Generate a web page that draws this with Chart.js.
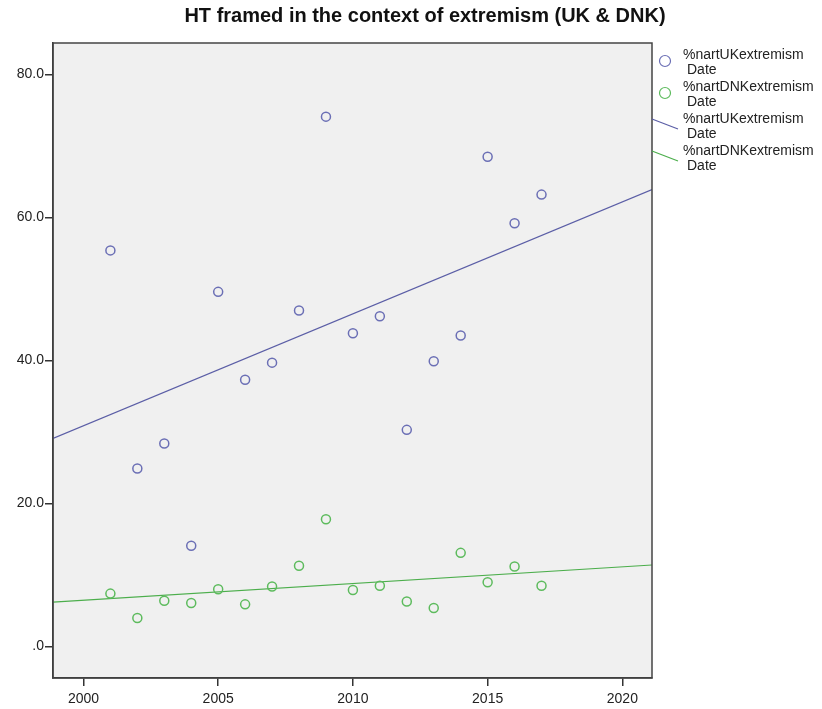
<!DOCTYPE html>
<html>
<head>
<meta charset="utf-8">
<script src="https://cdn.jsdelivr.net/npm/chart.js@4/dist/chart.umd.min.js"></script>
<style>
  body { margin: 0; background: #fff; }
  #wrap { width: 822px; height: 709px; }
</style>
</head>
<body>
<div id="wrap"><canvas id="chart" width="822" height="709"></canvas></div>
<script>
// values
const years = [2001, 2002, 2003, 2004, 2005, 2006, 2007, 2008, 2009, 2010, 2011, 2012, 2013, 2014, 2015, 2016, 2017];
const ukExtremism = [55.4, 24.9, 28.4, 14.1, 49.6, 37.3, 39.7, 47.0, 74.1, 43.8, 46.2, 30.3, 39.9, 43.5, 68.5, 59.2, 63.2];
const dnkExtremism = [7.4, 4.0, 6.4, 6.1, 8.0, 5.9, 8.4, 11.3, 17.8, 7.9, 8.5, 6.3, 5.4, 13.1, 9.0, 11.2, 8.5];

// fit lines, read at the two plot edges
const fitYears = [1998.87, 2021.1];
const ukFit = [29.1, 63.9];
const dnkFit = [6.2, 11.4];

const xTicks = [2000, 2005, 2010, 2015, 2020];
const yTicks = [0, 20, 40, 60, 80];
const xRange = [1998.87, 2021.1];
const yRange = [-4.4, 84.4];

const legendItems = [
  { label: ['%nartUKextremism', 'Date'], kind: 'point', color: '#6b6fb5' },
  { label: ['%nartDNKextremism', 'Date'], kind: 'point', color: '#5dbb5d' },
  { label: ['%nartUKextremism', 'Date'], kind: 'line', color: '#5b5ea6' },
  { label: ['%nartDNKextremism', 'Date'], kind: 'line', color: '#4cae4c' }
];

const FONT = '"Liberation Sans", Arial, sans-serif';

const toPoints = (xs, ys) => xs.map((x, i) => ({ x: x, y: ys[i] }));

// grey plot background, frame, title and the SPSS style legend
const spssDecor = {
  id: 'spssDecor',
  beforeDraw(chart) {
    const { ctx, chartArea: a } = chart;
    ctx.save();
    ctx.fillStyle = '#f0f0f0';
    ctx.fillRect(a.left, a.top, a.right - a.left, a.bottom - a.top);
    ctx.restore();
  },
  afterDraw(chart) {
    const { ctx, chartArea: a } = chart;
    ctx.save();
    ctx.strokeStyle = '#444';
    ctx.lineWidth = 1.5;
    ctx.strokeRect(a.left, a.top, a.right - a.left, a.bottom - a.top);

    // title
    ctx.fillStyle = '#111';
    ctx.font = 'bold 20px ' + FONT;
    ctx.textAlign = 'center';
    ctx.textBaseline = 'middle';
    ctx.fillText('HT framed in the context of extremism (UK & DNK)', 425, 16);

    // legend
    ctx.font = '14px ' + FONT;
    ctx.textAlign = 'left';
    legendItems.forEach((item, i) => {
      const y0 = 55 + i * 32;
      ctx.strokeStyle = item.color;
      ctx.lineWidth = 1.2;
      ctx.beginPath();
      if (item.kind === 'point') {
        ctx.arc(665, y0 + 6, 5.5, 0, Math.PI * 2);
      } else {
        ctx.moveTo(652, y0);
        ctx.lineTo(678, y0 + 10);
      }
      ctx.stroke();
      ctx.fillStyle = '#222';
      ctx.fillText(item.label[0], 683, y0);
      ctx.fillText(item.label[1], 687, y0 + 15);
    });
    ctx.restore();
  }
};

const ctx = document.getElementById('chart').getContext('2d');
new Chart(ctx, {
  type: 'scatter',
  data: {
    datasets: [
      { label: '%nartUKextremism', data: toPoints(years, ukExtremism), borderColor: '#6b6fb5', backgroundColor: 'rgba(0,0,0,0)', pointRadius: 4.5, borderWidth: 1.5 },
      { label: '%nartDNKextremism', data: toPoints(years, dnkExtremism), borderColor: '#5dbb5d', backgroundColor: 'rgba(0,0,0,0)', pointRadius: 4.5, borderWidth: 1.5 },
      { type: 'line', label: 'UK fit', data: toPoints(fitYears, ukFit), borderColor: '#5b5ea6', borderWidth: 1.2, pointRadius: 0, fill: false },
      { type: 'line', label: 'DNK fit', data: toPoints(fitYears, dnkFit), borderColor: '#4cae4c', borderWidth: 1.2, pointRadius: 0, fill: false }
    ]
  },
  options: {
    responsive: false,
    animation: false,
    layout: { padding: { top: 43, right: 170, left: 0, bottom: 0 } },
    plugins: {
      legend: { display: false },
      title: { display: false },
      tooltip: { enabled: false }
    },
    scales: {
      x: {
        type: 'linear',
        min: xRange[0],
        max: xRange[1],
        afterBuildTicks: s => { s.ticks = xTicks.map(v => ({ value: v })); },
        afterFit: s => { s.height = 31; },
        ticks: { callback: v => String(v), color: '#222', font: { size: 14, family: FONT }, padding: 5, maxRotation: 0 },
        grid: { drawOnChartArea: false, drawTicks: true, tickLength: 8, color: '#333', lineWidth: 1.5 },
        border: { display: true, color: '#333', width: 1.5 }
      },
      y: {
        min: yRange[0],
        max: yRange[1],
        afterBuildTicks: s => { s.ticks = yTicks.map(v => ({ value: v })); },
        afterFit: s => { s.width = 53; },
        ticks: { callback: v => v === 0 ? '.0' : v.toFixed(1), color: '#222', font: { size: 14, family: FONT }, padding: 1 },
        grid: { drawOnChartArea: false, drawTicks: true, tickLength: 8, color: '#333', lineWidth: 1.5 },
        border: { display: true, color: '#333', width: 1.5 }
      }
    }
  },
  plugins: [spssDecor]
});
</script>
</body>
</html>
